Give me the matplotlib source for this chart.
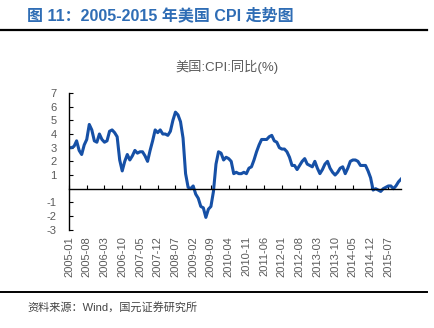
import matplotlib
matplotlib.use("Agg")
import matplotlib.pyplot as plt
from matplotlib.lines import Line2D

# US CPI year-on-year (%), monthly 2005-01 .. 2015-12
cpi_2005 = [3.0, 3.0, 3.1, 3.5, 2.8, 2.5, 3.2, 3.6, 4.7, 4.3, 3.5, 3.4]
cpi_2006 = [4.0, 3.6, 3.4, 3.5, 4.2, 4.3, 4.1, 3.8, 2.1, 1.3, 2.0, 2.5]
cpi_2007 = [2.1, 2.4, 2.8, 2.6, 2.7, 2.7, 2.4, 2.0, 2.8, 3.5, 4.3, 4.1]
cpi_2008 = [4.3, 4.0, 4.0, 3.9, 4.2, 5.0, 5.6, 5.4, 4.9, 3.7, 1.1, 0.1]
cpi_2009 = [0.0, 0.2, -0.4, -0.7, -1.3, -1.4, -2.1, -1.5, -1.3, -0.2, 1.8, 2.7]
cpi_2010 = [2.6, 2.1, 2.3, 2.2, 2.0, 1.1, 1.2, 1.1, 1.1, 1.2, 1.1, 1.5]
cpi_2011 = [1.6, 2.1, 2.7, 3.2, 3.6, 3.6, 3.6, 3.8, 3.9, 3.5, 3.4, 3.0]
cpi_2012 = [2.9, 2.9, 2.7, 2.3, 1.7, 1.7, 1.4, 1.7, 2.0, 2.2, 1.8, 1.7]
cpi_2013 = [1.6, 2.0, 1.5, 1.1, 1.4, 1.8, 2.0, 1.5, 1.2, 1.0, 1.2, 1.5]
cpi_2014 = [1.6, 1.1, 1.5, 2.0, 2.1, 2.1, 2.0, 1.7, 1.7, 1.7, 1.3, 0.8]
cpi_2015 = [-0.1, 0.0, -0.1, -0.2, 0.0, 0.1, 0.2, 0.2, 0.0, 0.2, 0.5, 0.7]

cpi = (cpi_2005 + cpi_2006 + cpi_2007 + cpi_2008 + cpi_2009 + cpi_2010
       + cpi_2011 + cpi_2012 + cpi_2013 + cpi_2014 + cpi_2015)
months = [f"{y}-{m:02d}" for y in range(2005, 2016) for m in range(1, 13)]

y_ticks = [-3, -2, -1, 1, 2, 3, 4, 5, 6, 7]

plt.rcParams['font.family'] = ['Liberation Sans', 'Noto Sans CJK SC', 'DejaVu Sans']

fig = plt.figure(figsize=(4.35, 3.28), dpi=100)
ax = fig.add_axes([69 / 435, 1 - 229.7 / 328, 332 / 435, 136.7 / 328])

x = list(range(len(cpi)))
ax.plot(x, cpi, color='#1650A6', linewidth=2.2, solid_joinstyle='round')

ax.set_xlim(0, len(cpi) - 1)
ax.set_ylim(-3, 7)

for s in ['top', 'right']:
    ax.spines[s].set_visible(False)
ax.spines['bottom'].set_position(('data', 0))
ax.spines['bottom'].set_linewidth(1.0)
ax.spines['left'].set_linewidth(1.0)

tick_pos = x[::7]
ax.set_xticks(tick_pos)
ax.set_xticklabels([months[i] for i in tick_pos], rotation=90, va='top')
ax.tick_params(axis='x', direction='in', length=3, pad=34, labelsize=8,
               labelcolor='#5a5a5a')
ax.set_yticks(y_ticks)
ax.set_yticklabels([str(v) for v in y_ticks])
ax.tick_params(axis='y', direction='in', length=3, pad=9, labelsize=8,
               labelcolor='#5a5a5a')

ax.set_title('美国:CPI:同比(%)', fontsize=9.5, color='#5a5a5a', pad=16,
             x=(226.7 - 69) / 332)

# header, rules and source note
fig.text(27 / 435, 1 - 15 / 328, '图 11：2005-2015 年美国 CPI 走势图',
         fontsize=11.5, fontweight='bold', color='#2F6DB5', va='center')
fig.add_artist(Line2D([0, 427 / 435], [1 - 29.5 / 328] * 2, color='black',
                      linewidth=1.6, transform=fig.transFigure))
fig.add_artist(Line2D([0, 427 / 435], [1 - 291.7 / 328] * 2, color='black',
                      linewidth=1.4, transform=fig.transFigure))
fig.text(27 / 435, 1 - 307 / 328, '资料来源：Wind，国元证券研究所',
         fontsize=8, color='#444444', va='center')

fig.savefig('out.png', dpi=100)
